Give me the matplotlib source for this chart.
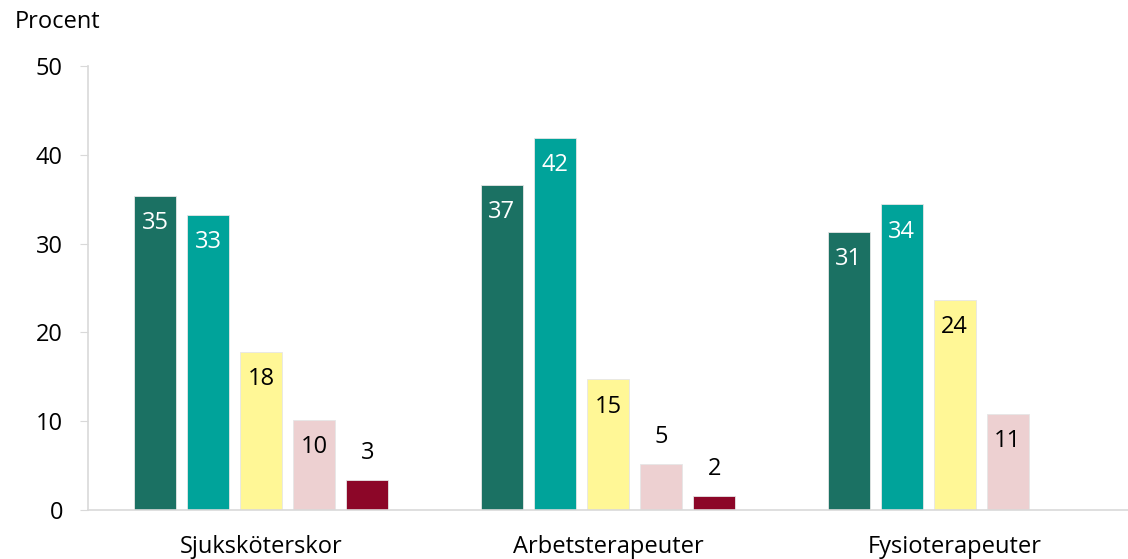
import matplotlib.pyplot as plt
import numpy as np

plt.rcParams['font.family'] = ['Open Sans', 'DejaVu Sans']

categories = ['Sjuksköterskor', 'Arbetsterapeuter', 'Fysioterapeuter']
series = [
    [35.4, 36.6, 31.3],
    [33.2, 41.9, 34.4],
    [17.8, 14.7, 23.6],
    [10.1, 5.2, 10.8],
    [3.4, 1.6, None],
]
labels = [
    ['35', '37', '31'],
    ['33', '42', '34'],
    ['18', '15', '24'],
    ['10', '5', '11'],
    ['3', '2', None],
]
colors = ['#1B7163', '#00A39A', '#FFF796', '#EDD0D1', '#8C0628']
text_colors = ['white', 'white', 'black', 'black', 'black']
fs = 17

fig = plt.figure(figsize=(11.28, 5.59), dpi=100)
ax = fig.add_axes([0.078, 0.0877, 0.922, 0.7943])

x = np.arange(len(categories))
pitch = 0.153
width = 0.121
for i, vals in enumerate(series):
    for j, v in enumerate(vals):
        if v is None:
            continue
        xp = x[j] + (i - 2) * pitch
        ax.bar(xp, v, width=width, color=colors[i], edgecolor='#e6e6e6', linewidth=0.6)
        if v > 7:
            ax.annotate(labels[i][j], (xp, v), xytext=(0, -19.5), textcoords='offset points',
                        ha='center', va='center', fontsize=fs, color=text_colors[i])
        else:
            ax.annotate(labels[i][j], (xp, v), xytext=(0, 19.5), textcoords='offset points',
                        ha='center', va='center', fontsize=fs, color='black')

ax.set_xlim(-0.5, 2.5)
ax.set_ylim(0, 50)
ax.set_yticks([0, 10, 20, 30, 40, 50])
ax.set_xticks(x)
ax.set_xticklabels(categories, fontsize=fs)
ax.tick_params(axis='x', length=0, pad=18)
ax.tick_params(axis='y', length=6, color='#d9d9d9', labelsize=fs, pad=12)
for s in ['top', 'right']:
    ax.spines[s].set_visible(False)
ax.spines['left'].set_color('#d9d9d9')
ax.spines['bottom'].set_color('#d9d9d9')
ax.spines['left'].set_linewidth(1.2)
ax.spines['bottom'].set_linewidth(1.2)

fig.text(0.013, 0.96, 'Procent', fontsize=fs, ha='left', va='center')

fig.savefig('out.png', dpi=100)
